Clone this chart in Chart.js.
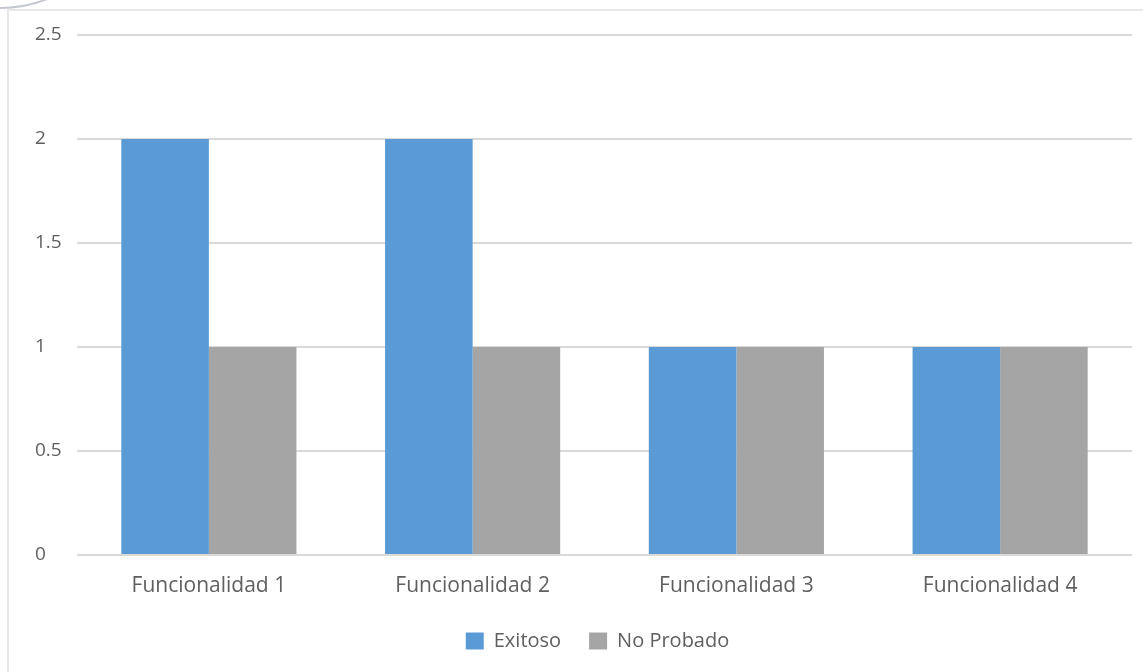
<!DOCTYPE html>
<html>
<head>
<meta charset="utf-8">
<script src="https://cdn.jsdelivr.net/npm/chart.js@4/dist/chart.umd.min.js"></script>
<style>
  html, body { margin: 0; padding: 0; background: #fff; }
  #wrap { position: relative; width: 1143px; height: 672px; overflow: hidden; }
  #frame { position: absolute; left: 7px; top: 9px; right: -4px; bottom: -4px;
           border-top: 2px solid #e8e8e8; border-left: 2px solid #e8e8e8; }
  #arc { position: absolute; left: -130px; top: -251px; width: 260px; height: 260px;
         border-radius: 50%; border: 2px solid #c3c8d0; box-sizing: border-box; }
  canvas { position: absolute; left: 0; top: 0; }
</style>
</head>
<body>
<div id="wrap">
  <div id="frame"></div>
  <div id="arc"></div>
  <canvas id="chart" width="1143" height="672"></canvas>
</div>
<script>
const categories = ["Funcionalidad 1", "Funcionalidad 2", "Funcionalidad 3", "Funcionalidad 4"];
const exitoso = [2, 2, 1, 1];
const noProbado = [1, 1, 1, 1];
const yTicks = [0, 0.5, 1, 1.5, 2, 2.5];

const textColor = "#5f5f5f";
const fontFamily = "'Open Sans', 'DejaVu Sans', sans-serif";

// legend sits a bit right of the canvas centre in the original
const legendShift = {
  id: "legendShift",
  afterLayout(chart) {
    chart.legend.left += 14;
    chart.legend.right += 14;
  }
};

const ctx = document.getElementById("chart").getContext("2d");
new Chart(ctx, {
  type: "bar",
  data: {
    labels: categories,
    datasets: [
      { label: "Exitoso", data: exitoso, backgroundColor: "#5B9BD5" },
      { label: "No Probado", data: noProbado, backgroundColor: "#A5A5A5" }
    ]
  },
  plugins: [legendShift],
  options: {
    responsive: false,
    animation: false,
    layout: { padding: { left: 35, right: 11, top: 35, bottom: 11 } },
    datasets: { bar: { categoryPercentage: 0.664, barPercentage: 1.0 } },
    plugins: {
      tooltip: { enabled: false },
      legend: {
        position: "bottom",
        labels: {
          color: textColor,
          font: { family: fontFamily, size: 20, lineHeight: 1.2 },
          boxWidth: 18,
          boxHeight: 17,
          padding: 28
        }
      }
    },
    scales: {
      x: {
        grid: { display: false, drawTicks: false },
        border: { display: false },
        afterFit: axis => { axis.height = 48; },
        ticks: { color: textColor, font: { family: fontFamily, size: 21 }, padding: 18 }
      },
      y: {
        min: 0,
        max: 2.5,
        afterBuildTicks: axis => { axis.ticks = yTicks.map(v => ({ value: v })); },
        afterFit: axis => { axis.width = 42; },
        grid: { color: "#d9d9d9", lineWidth: 2, drawTicks: false },
        border: { display: false },
        ticks: {
          color: textColor,
          font: { family: fontFamily, size: 19 },
          crossAlign: "far",
          padding: 0,
          callback: v => String(v)
        }
      }
    }
  }
});
</script>
</body>
</html>
